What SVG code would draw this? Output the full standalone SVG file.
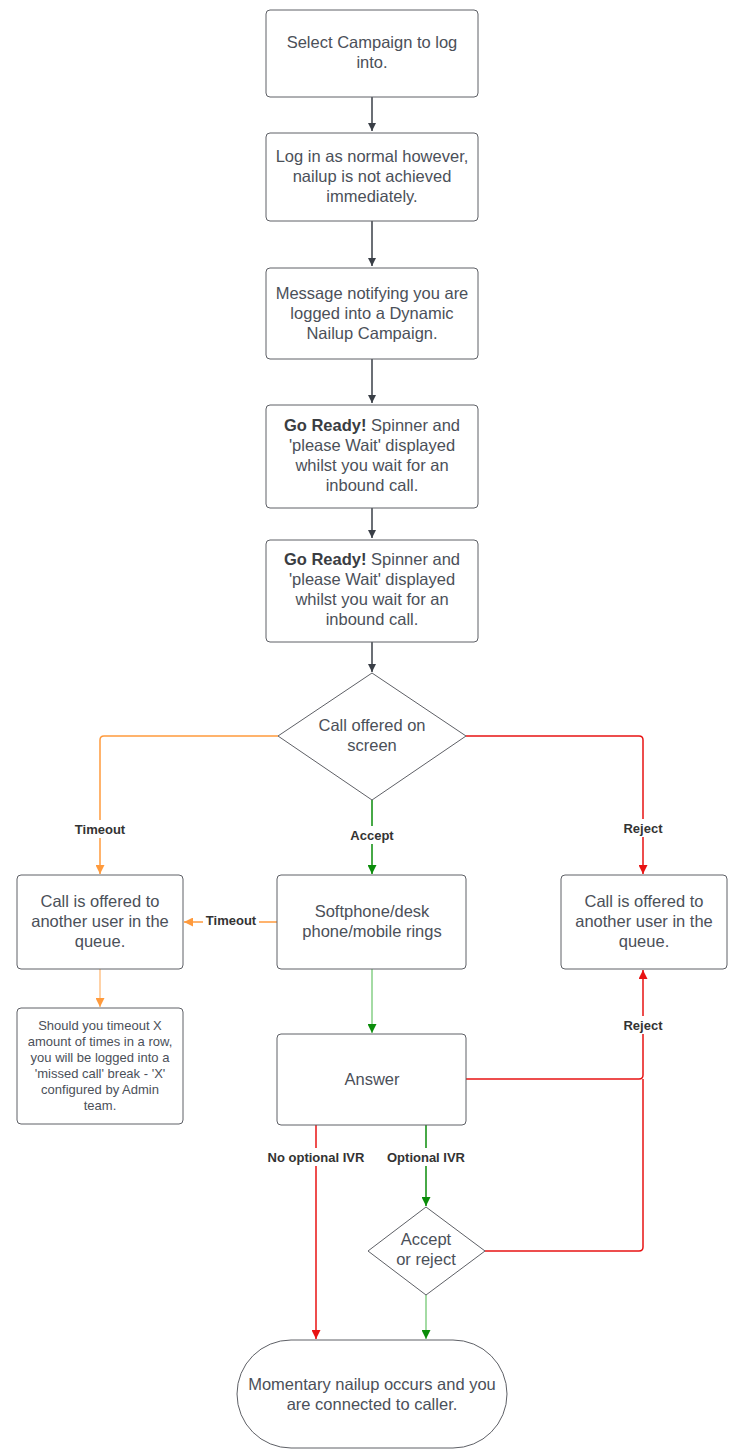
<svg xmlns="http://www.w3.org/2000/svg" width="744" height="1455" viewBox="0 0 744 1455">
<style>
.n{fill:#fff;stroke:#5e6066;stroke-width:1}
.t{font-family:"Liberation Sans",Arial,sans-serif;font-size:16.5px;fill:#4b5059;text-anchor:middle}
.s{font-size:13px}
.b{font-weight:bold;fill:#3a3d42}
.l{font-family:"Liberation Sans",Arial,sans-serif;font-size:13px;font-weight:bold;fill:#333;text-anchor:middle}
.lb{fill:#fff}
.c{fill:none;stroke-width:1.5}
.g{stroke:#3a3f47}
.o{stroke:#FF9A3C}
.r{stroke:#E81313}
.gr{stroke:#0A8C0A}
.lo{stroke:#FFC38A}
.lg{stroke:#86CF86}
</style>
<defs>
<marker id="ag" viewBox="0 0 10 10" refX="10" refY="5" markerWidth="8" markerHeight="8" markerUnits="userSpaceOnUse" orient="auto"><path d="M0,0L10,5L0,10z" fill="#3a3f47"/></marker>
<marker id="ao" viewBox="0 0 10 10" refX="10" refY="5" markerWidth="9" markerHeight="9" markerUnits="userSpaceOnUse" orient="auto"><path d="M0,0L10,5L0,10z" fill="#FF9A3C"/></marker>
<marker id="ar" viewBox="0 0 10 10" refX="10" refY="5" markerWidth="9" markerHeight="9" markerUnits="userSpaceOnUse" orient="auto"><path d="M0,0L10,5L0,10z" fill="#E81313"/></marker>
<marker id="agr" viewBox="0 0 10 10" refX="10" refY="5" markerWidth="9" markerHeight="9" markerUnits="userSpaceOnUse" orient="auto"><path d="M0,0L10,5L0,10z" fill="#0A8C0A"/></marker>
</defs>

<g id="connectors">
<path class="c g" d="M372,97V131" marker-end="url(#ag)"/>
<path class="c g" d="M372,221V266" marker-end="url(#ag)"/>
<path class="c g" d="M372,359V403" marker-end="url(#ag)"/>
<path class="c g" d="M372,508V538" marker-end="url(#ag)"/>
<path class="c g" d="M372,642V672" marker-end="url(#ag)"/>
<path class="c o" d="M278,736H104Q100,736 100,740V874" marker-end="url(#ao)"/>
<path class="c gr" d="M372,800V874" marker-end="url(#agr)"/>
<path class="c r" d="M466,736H639Q643,736 643,740V874" marker-end="url(#ar)"/>
<path class="c o" d="M277,922H184" marker-end="url(#ao)"/>
<path class="c lo" d="M100,969V1007" marker-end="url(#ao)"/>
<path class="c lg" d="M372,969V1033" marker-end="url(#agr)"/>
<path class="c r" d="M466,1079H639Q643,1079 643,1075V970" marker-end="url(#ar)"/>
<path class="c r" d="M485,1251H639Q643,1251 643,1247V1079"/>
<path class="c r" d="M316,1125V1339" marker-end="url(#ar)"/>
<path class="c gr" d="M426,1125V1206" marker-end="url(#agr)"/>
<path class="c lg" d="M426,1295V1339" marker-end="url(#agr)"/>
<rect class="lb" x="70" y="820" width="60" height="18"/>
<text class="l" x="100" y="834">Timeout</text>
<rect class="lb" x="344" y="826" width="56" height="18"/>
<text class="l" x="372" y="840">Accept</text>
<rect class="lb" x="618" y="819" width="50" height="18"/>
<text class="l" x="643" y="833">Reject</text>
<rect class="lb" x="203" y="912" width="56" height="18"/>
<text class="l" x="231" y="925">Timeout</text>
<rect class="lb" x="618" y="1016" width="50" height="18"/>
<text class="l" x="643" y="1030">Reject</text>
<rect class="lb" x="264" y="1148" width="104" height="18"/>
<text class="l" x="316" y="1162">No optional IVR</text>
<rect class="lb" x="383" y="1148" width="86" height="18"/>
<text class="l" x="426" y="1162">Optional IVR</text>
</g>

<g id="n1"><rect class="n" x="266" y="10" width="212" height="87" rx="4"/>
<text class="t" x="372" y="48">Select Campaign to log</text><text class="t" x="372" y="68">into.</text></g>

<g id="n2"><rect class="n" x="266" y="133" width="212" height="88" rx="4"/>
<text class="t" x="372" y="162">Log in as normal however,</text><text class="t" x="372" y="182">nailup is not achieved</text><text class="t" x="372" y="202">immediately.</text></g>

<g id="n3"><rect class="n" x="266" y="268" width="212" height="91" rx="4"/>
<text class="t" x="372" y="299">Message notifying you are</text><text class="t" x="372" y="319">logged into a Dynamic</text><text class="t" x="372" y="339">Nailup Campaign.</text></g>

<g id="n4"><rect class="n" x="266" y="405" width="212" height="103" rx="4"/>
<text class="t" x="372" y="431"><tspan class="b">Go Ready!</tspan> Spinner and</text><text class="t" x="372" y="451">'please Wait' displayed</text><text class="t" x="372" y="471">whilst you wait for an</text><text class="t" x="372" y="491">inbound call.</text></g>

<g id="n5"><rect class="n" x="266" y="540" width="212" height="102" rx="4"/>
<text class="t" x="372" y="565"><tspan class="b">Go Ready!</tspan> Spinner and</text><text class="t" x="372" y="585">'please Wait' displayed</text><text class="t" x="372" y="605">whilst you wait for an</text><text class="t" x="372" y="625">inbound call.</text></g>

<g id="d1"><path class="n" d="M372,673L466,736L372,800L278,736Z"/>
<text class="t" x="372" y="731">Call offered on</text><text class="t" x="372" y="751">screen</text></g>

<g id="n6"><rect class="n" x="17" y="875" width="166" height="94" rx="4"/>
<text class="t" x="100" y="907">Call is offered to</text><text class="t" x="100" y="927">another user in the</text><text class="t" x="100" y="947">queue.</text></g>

<g id="n7"><rect class="n" x="277" y="875" width="189" height="94" rx="4"/>
<text class="t" x="372" y="917">Softphone/desk</text><text class="t" x="372" y="937">phone/mobile rings</text></g>

<g id="n8"><rect class="n" x="561" y="875" width="166" height="94" rx="4"/>
<text class="t" x="644" y="907">Call is offered to</text><text class="t" x="644" y="927">another user in the</text><text class="t" x="644" y="947">queue.</text></g>

<g id="n9"><rect class="n" x="17" y="1008" width="166" height="116" rx="4"/>
<text class="t s" x="100" y="1030">Should you timeout X</text><text class="t s" x="100" y="1046">amount of times in a row,</text><text class="t s" x="100" y="1062">you will be logged into a</text><text class="t s" x="100" y="1078">'missed call' break - 'X'</text><text class="t s" x="100" y="1094">configured by Admin</text><text class="t s" x="100" y="1110">team.</text></g>

<g id="n10"><rect class="n" x="277" y="1034" width="189" height="91" rx="4"/>
<text class="t" x="372" y="1085">Answer</text></g>

<g id="d2"><path class="n" d="M426,1207L485,1251L426,1295L368,1251Z"/>
<text class="t" x="426" y="1245">Accept</text><text class="t" x="426" y="1265">or reject</text></g>

<g id="n11"><rect class="n" x="237" y="1340" width="270" height="108" rx="54"/>
<text class="t" x="372" y="1390">Momentary nailup occurs and you</text><text class="t" x="372" y="1410">are connected to caller.</text></g>
</svg>
